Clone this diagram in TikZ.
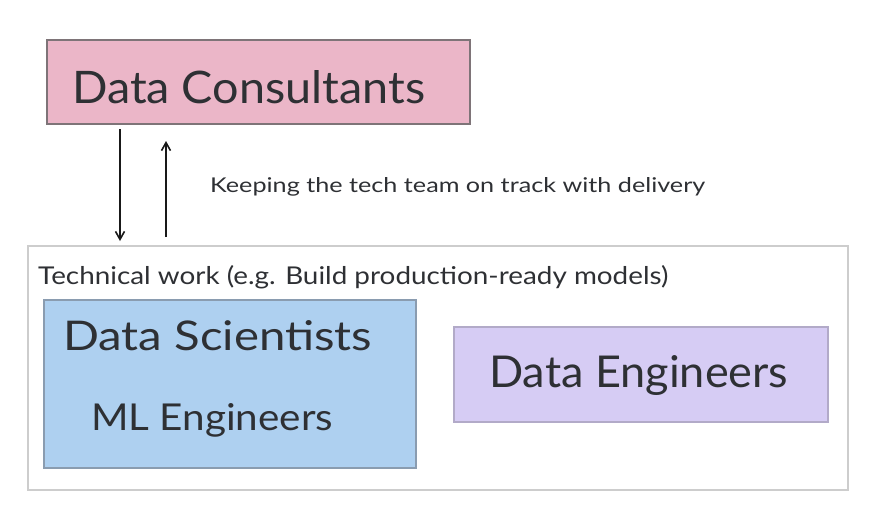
\documentclass[tikz,border=0pt]{standalone}
\usepackage{fontspec}
\setmainfont{Lato}
\usetikzlibrary{arrows.meta}
\definecolor{pinkfill}{HTML}{EBB6C8}
\definecolor{pinkline}{HTML}{7E7478}
\definecolor{bluefill}{HTML}{AED0F0}
\definecolor{blueline}{HTML}{8A9CB0}
\definecolor{purpfill}{HTML}{D6CCF4}
\definecolor{purpline}{HTML}{B2AAC8}
\definecolor{outline}{HTML}{CDCDCD}
\definecolor{ink}{HTML}{2E3034}
\tikzset{
  box/.style={rectangle, inner sep=0pt, line width=1.4pt},
  txt/.style={anchor=base west, inner sep=0pt, text=ink},
  arr/.style={line width=1.8pt, draw=black!90, -{Straight Barb[length=8pt,width=9pt,line width=1.6pt]}},
}
\newcommand{\fit}[3]{\resizebox{#1pt}{#2pt}{#3}}
\begin{document}
\begin{tikzpicture}[x=1pt,y=-1pt]
\useasboundingbox (0,0) rectangle (873,520);
% boxes
\node[box, draw=pinkline, fill=pinkfill, minimum width=423pt, minimum height=84pt] (cons) at (258.5,82) {};
\node[box, draw=outline, fill=white, line width=1.8pt, minimum width=820pt, minimum height=244pt] (tech) at (438,368) {};
\node[box, draw=blueline, fill=bluefill, minimum width=372pt, minimum height=168pt] (sci) at (230,384) {};
\node[box, draw=purpline, fill=purpfill, minimum width=374pt, minimum height=95pt] (eng) at (641,374.5) {};
% texts
\node[txt] (tcons) at (72,103) {\fit{353}{33}{Data Consultants}};
\node[txt] (tlabel) at (210,192) {\fit{495}{15}{Keeping the tech team on track with delivery}};
\node[txt] (ttech) at (38,284) {\fit{630}{19}{Technical work (e.g. Build production-ready models)}};
\node[txt] (tsci) at (63,350) {\fit{309}{30}{Data Scientists}};
\node[txt] (tml) at (91,430) {\fit{242}{27}{ML Engineers}};
\node[txt] (teng) at (489,387) {\fit{299}{32}{Data Engineers}};
% arrows
\coordinate (d1) at (120,129);
\coordinate (d2) at (120,241);
\coordinate (u1) at (166,237);
\coordinate (u2) at (166,141);
\draw[arr] (d1) -- (d2);
\draw[arr] (u1) -- (u2);
\end{tikzpicture}
\end{document}
